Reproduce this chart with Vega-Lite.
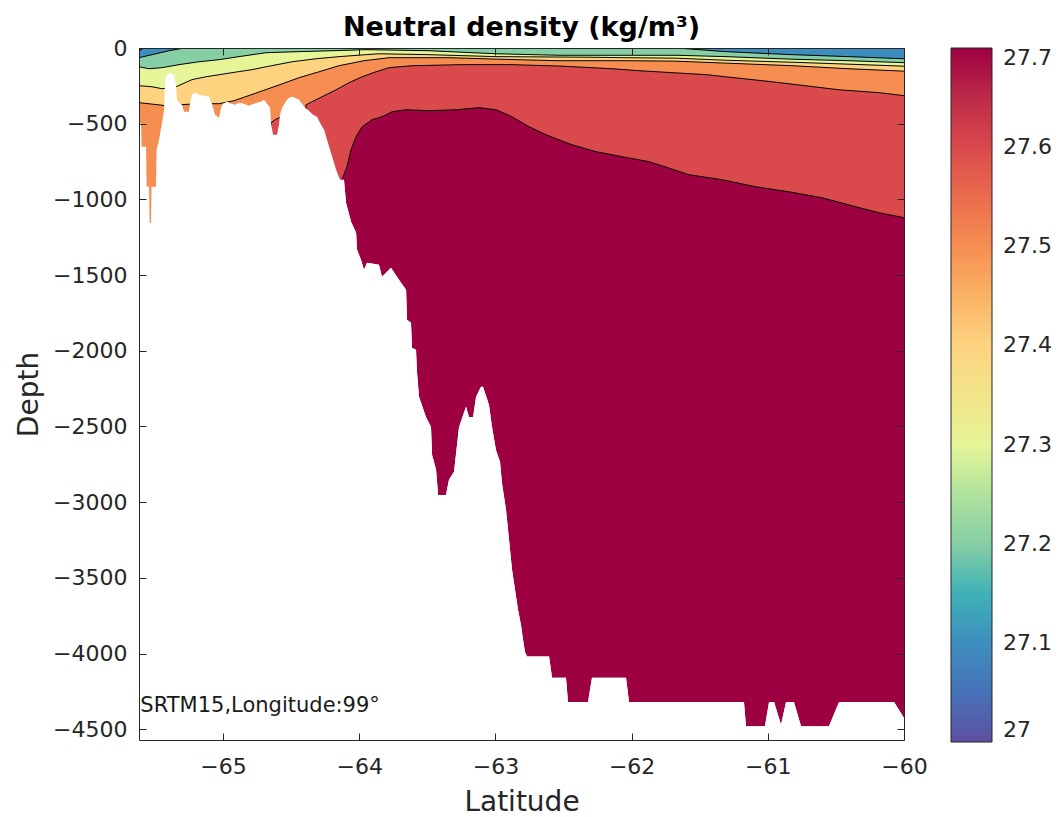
{
  "$schema": "https://vega.github.io/schema/vega-lite/v6.json",
  "width": 765,
  "height": 692,
  "autosize": "none",
  "padding": {"left": 139, "top": 48, "right": 154, "bottom": 77},
  "background": "white",
  "config": {
    "font": "DejaVu Sans",
    "view": {"stroke": null},
    "axis": {
      "labelFont": "DejaVu Sans",
      "labelFontSize": 22,
      "labelColor": "#262626",
      "titleFont": "DejaVu Sans",
      "titleFontSize": 28,
      "titleFontWeight": "normal",
      "titleColor": "#262626",
      "domainColor": "#262626",
      "domainWidth": 1,
      "tickColor": "#262626",
      "tickWidth": 1,
      "grid": false,
      "tickSize": -7,
      "zindex": 2,
      "labelFlush": false,
      "labelOverlap": false
    },
    "legend": {"labelFont": "DejaVu Sans", "labelFontSize": 22, "labelColor": "#262626"}
  },
  "title": {
    "text": "Neutral density (kg/m³)",
    "fontSize": 27,
    "fontWeight": "bold",
    "color": "black",
    "anchor": "middle",
    "frame": "group",
    "offset": -26,
    "baseline": "alphabetic"
  },
  "datasets": {
    "floor": [
      {"lat": -65.617, "depth": -494}, {"lat": -65.602, "depth": -494}, {"lat": -65.598, "depth": -652}, {"lat": -65.565, "depth": -652},
      {"lat": -65.561, "depth": -917}, {"lat": -65.543, "depth": -917}, {"lat": -65.539, "depth": -1154}, {"lat": -65.529, "depth": -1154},
      {"lat": -65.525, "depth": -917}, {"lat": -65.492, "depth": -917}, {"lat": -65.488, "depth": -672}, {"lat": -65.470, "depth": -606},
      {"lat": -65.448, "depth": -494}, {"lat": -65.433, "depth": -408}, {"lat": -65.426, "depth": -209}, {"lat": -65.411, "depth": -176},
      {"lat": -65.389, "depth": -163}, {"lat": -65.360, "depth": -176}, {"lat": -65.345, "depth": -243}, {"lat": -65.338, "depth": -342},
      {"lat": -65.323, "depth": -361}, {"lat": -65.301, "depth": -375}, {"lat": -65.286, "depth": -421}, {"lat": -65.250, "depth": -421},
      {"lat": -65.242, "depth": -361}, {"lat": -65.228, "depth": -309}, {"lat": -65.206, "depth": -295}, {"lat": -65.176, "depth": -309},
      {"lat": -65.140, "depth": -315}, {"lat": -65.103, "depth": -322}, {"lat": -65.081, "depth": -368}, {"lat": -65.059, "depth": -441},
      {"lat": -65.029, "depth": -461}, {"lat": -65.015, "depth": -394}, {"lat": -65.000, "depth": -368}, {"lat": -64.971, "depth": -355},
      {"lat": -64.941, "depth": -368}, {"lat": -64.912, "depth": -375}, {"lat": -64.883, "depth": -361}, {"lat": -64.846, "depth": -368},
      {"lat": -64.809, "depth": -381}, {"lat": -64.772, "depth": -368}, {"lat": -64.750, "depth": -361}, {"lat": -64.721, "depth": -355},
      {"lat": -64.699, "depth": -342}, {"lat": -64.677, "depth": -368}, {"lat": -64.655, "depth": -394}, {"lat": -64.648, "depth": -494},
      {"lat": -64.633, "depth": -573}, {"lat": -64.604, "depth": -573}, {"lat": -64.589, "depth": -507}, {"lat": -64.582, "depth": -441},
      {"lat": -64.567, "depth": -394}, {"lat": -64.545, "depth": -361}, {"lat": -64.530, "depth": -342}, {"lat": -64.515, "depth": -328},
      {"lat": -64.493, "depth": -322}, {"lat": -64.471, "depth": -328}, {"lat": -64.442, "depth": -342}, {"lat": -64.420, "depth": -368},
      {"lat": -64.398, "depth": -394}, {"lat": -64.369, "depth": -414}, {"lat": -64.339, "depth": -441}, {"lat": -64.310, "depth": -454},
      {"lat": -64.280, "depth": -507}, {"lat": -64.258, "depth": -540}, {"lat": -64.236, "depth": -606}, {"lat": -64.214, "depth": -672},
      {"lat": -64.192, "depth": -738}, {"lat": -64.170, "depth": -804}, {"lat": -64.141, "depth": -870}, {"lat": -64.112, "depth": -870},
      {"lat": -64.097, "depth": -1022}, {"lat": -64.060, "depth": -1147}, {"lat": -64.023, "depth": -1220}, {"lat": -64.016, "depth": -1333},
      {"lat": -63.987, "depth": -1399}, {"lat": -63.965, "depth": -1465}, {"lat": -63.943, "depth": -1419}, {"lat": -63.855, "depth": -1432},
      {"lat": -63.833, "depth": -1511}, {"lat": -63.767, "depth": -1452}, {"lat": -63.693, "depth": -1551}, {"lat": -63.656, "depth": -1597},
      {"lat": -63.649, "depth": -1795}, {"lat": -63.620, "depth": -1815}, {"lat": -63.612, "depth": -1981}, {"lat": -63.583, "depth": -1994},
      {"lat": -63.576, "depth": -2139}, {"lat": -63.561, "depth": -2304}, {"lat": -63.510, "depth": -2437}, {"lat": -63.473, "depth": -2503},
      {"lat": -63.465, "depth": -2688}, {"lat": -63.436, "depth": -2785}, {"lat": -63.421, "depth": -2953}, {"lat": -63.363, "depth": -2953},
      {"lat": -63.341, "depth": -2852}, {"lat": -63.304, "depth": -2799}, {"lat": -63.267, "depth": -2503}, {"lat": -63.216, "depth": -2370},
      {"lat": -63.194, "depth": -2437}, {"lat": -63.164, "depth": -2437}, {"lat": -63.142, "depth": -2304}, {"lat": -63.106, "depth": -2238},
      {"lat": -63.091, "depth": -2238}, {"lat": -63.047, "depth": -2358}, {"lat": -63.025, "depth": -2503}, {"lat": -62.996, "depth": -2655},
      {"lat": -62.966, "depth": -2734}, {"lat": -62.952, "depth": -2874}, {"lat": -62.922, "depth": -3051}, {"lat": -62.900, "depth": -3249},
      {"lat": -62.878, "depth": -3447}, {"lat": -62.856, "depth": -3579}, {"lat": -62.834, "depth": -3711}, {"lat": -62.812, "depth": -3811},
      {"lat": -62.797, "depth": -3910}, {"lat": -62.783, "depth": -3989}, {"lat": -62.768, "depth": -4020}, {"lat": -62.606, "depth": -4020},
      {"lat": -62.584, "depth": -4160}, {"lat": -62.482, "depth": -4160}, {"lat": -62.467, "depth": -4320}, {"lat": -62.320, "depth": -4320},
      {"lat": -62.291, "depth": -4160}, {"lat": -62.041, "depth": -4160}, {"lat": -62.019, "depth": -4320}, {"lat": -61.175, "depth": -4320},
      {"lat": -61.160, "depth": -4480}, {"lat": -61.021, "depth": -4480}, {"lat": -60.991, "depth": -4320}, {"lat": -60.954, "depth": -4320},
      {"lat": -60.903, "depth": -4470}, {"lat": -60.866, "depth": -4320}, {"lat": -60.808, "depth": -4320}, {"lat": -60.756, "depth": -4480},
      {"lat": -60.551, "depth": -4480}, {"lat": -60.477, "depth": -4320}, {"lat": -60.073, "depth": -4320}, {"lat": -60.0, "depth": -4426}
    ],
    "iso": [
      {"lvl": 27.7, "part": "a", "lat": -65.617, "depth": -3000}, {"lvl": 27.7, "part": "a", "lat": -64.140, "depth": -3000},
      {"lvl": 27.7, "part": "a", "lat": -64.126, "depth": -870}, {"lvl": 27.7, "part": "a", "lat": -64.090, "depth": -784},
      {"lvl": 27.7, "part": "a", "lat": -64.060, "depth": -672}, {"lvl": 27.7, "part": "a", "lat": -64.023, "depth": -586},
      {"lvl": 27.7, "part": "a", "lat": -63.979, "depth": -520}, {"lvl": 27.7, "part": "a", "lat": -63.906, "depth": -474},
      {"lvl": 27.7, "part": "a", "lat": -63.833, "depth": -454}, {"lvl": 27.7, "part": "a", "lat": -63.759, "depth": -421},
      {"lvl": 27.7, "part": "a", "lat": -63.656, "depth": -408}, {"lvl": 27.7, "part": "a", "lat": -63.488, "depth": -414},
      {"lvl": 27.7, "part": "a", "lat": -63.289, "depth": -408}, {"lvl": 27.7, "part": "a", "lat": -63.120, "depth": -394},
      {"lvl": 27.7, "part": "a", "lat": -62.996, "depth": -408}, {"lvl": 27.7, "part": "a", "lat": -62.878, "depth": -454},
      {"lvl": 27.7, "part": "a", "lat": -62.753, "depth": -520}, {"lvl": 27.7, "part": "a", "lat": -62.629, "depth": -573},
      {"lvl": 27.7, "part": "a", "lat": -62.438, "depth": -639}, {"lvl": 27.7, "part": "a", "lat": -62.261, "depth": -685},
      {"lvl": 27.7, "part": "a", "lat": -62.070, "depth": -718}, {"lvl": 27.7, "part": "a", "lat": -61.872, "depth": -751},
      {"lvl": 27.7, "part": "a", "lat": -61.777, "depth": -778}, {"lvl": 27.7, "part": "a", "lat": -61.579, "depth": -837},
      {"lvl": 27.7, "part": "a", "lat": -61.336, "depth": -870}, {"lvl": 27.7, "part": "a", "lat": -61.087, "depth": -917},
      {"lvl": 27.7, "part": "a", "lat": -60.844, "depth": -950}, {"lvl": 27.7, "part": "a", "lat": -60.602, "depth": -989},
      {"lvl": 27.7, "part": "a", "lat": -60.352, "depth": -1049}, {"lvl": 27.7, "part": "a", "lat": -60.184, "depth": -1088},
      {"lvl": 27.7, "part": "a", "lat": -60.0, "depth": -1121},

      {"lvl": 27.6, "part": "a", "lat": -65.617, "depth": -3000}, {"lvl": 27.6, "part": "a", "lat": -64.655, "depth": -3000},
      {"lvl": 27.6, "part": "a", "lat": -64.648, "depth": -494}, {"lvl": 27.6, "part": "a", "lat": -64.618, "depth": -474},
      {"lvl": 27.6, "part": "a", "lat": -64.574, "depth": -454}, {"lvl": 27.6, "part": "a", "lat": -64.567, "depth": -3000},
      {"lvl": 27.6, "part": "a", "lat": -64.394, "depth": -3000}, {"lvl": 27.6, "part": "a", "lat": -64.391, "depth": -375},
      {"lvl": 27.6, "part": "a", "lat": -64.273, "depth": -322}, {"lvl": 27.6, "part": "a", "lat": -64.170, "depth": -276},
      {"lvl": 27.6, "part": "a", "lat": -64.075, "depth": -229}, {"lvl": 27.6, "part": "a", "lat": -63.979, "depth": -190},
      {"lvl": 27.6, "part": "a", "lat": -63.877, "depth": -157}, {"lvl": 27.6, "part": "a", "lat": -63.781, "depth": -130},
      {"lvl": 27.6, "part": "a", "lat": -63.612, "depth": -117}, {"lvl": 27.6, "part": "a", "lat": -63.245, "depth": -110},
      {"lvl": 27.6, "part": "a", "lat": -62.878, "depth": -110}, {"lvl": 27.6, "part": "a", "lat": -62.511, "depth": -120},
      {"lvl": 27.6, "part": "a", "lat": -62.144, "depth": -137}, {"lvl": 27.6, "part": "a", "lat": -61.946, "depth": -150},
      {"lvl": 27.6, "part": "a", "lat": -61.454, "depth": -176}, {"lvl": 27.6, "part": "a", "lat": -60.969, "depth": -223},
      {"lvl": 27.6, "part": "a", "lat": -60.477, "depth": -276}, {"lvl": 27.6, "part": "a", "lat": -60.184, "depth": -295},
      {"lvl": 27.6, "part": "a", "lat": -60.0, "depth": -315},

      {"lvl": 27.5, "part": "a", "lat": -65.617, "depth": -361}, {"lvl": 27.5, "part": "a", "lat": -65.419, "depth": -381},
      {"lvl": 27.5, "part": "a", "lat": -65.323, "depth": -375}, {"lvl": 27.5, "part": "a", "lat": -65.176, "depth": -368},
      {"lvl": 27.5, "part": "a", "lat": -65.029, "depth": -368}, {"lvl": 27.5, "part": "a", "lat": -64.919, "depth": -348},
      {"lvl": 27.5, "part": "a", "lat": -64.772, "depth": -302}, {"lvl": 27.5, "part": "a", "lat": -64.604, "depth": -249},
      {"lvl": 27.5, "part": "a", "lat": -64.442, "depth": -196}, {"lvl": 27.5, "part": "a", "lat": -64.295, "depth": -157},
      {"lvl": 27.5, "part": "a", "lat": -64.148, "depth": -117}, {"lvl": 27.5, "part": "a", "lat": -63.965, "depth": -84},
      {"lvl": 27.5, "part": "a", "lat": -63.781, "depth": -64}, {"lvl": 27.5, "part": "a", "lat": -63.341, "depth": -64},
      {"lvl": 27.5, "part": "a", "lat": -62.974, "depth": -74}, {"lvl": 27.5, "part": "a", "lat": -62.533, "depth": -84},
      {"lvl": 27.5, "part": "a", "lat": -62.041, "depth": -84}, {"lvl": 27.5, "part": "a", "lat": -61.674, "depth": -87},
      {"lvl": 27.5, "part": "a", "lat": -61.307, "depth": -100}, {"lvl": 27.5, "part": "a", "lat": -60.822, "depth": -117},
      {"lvl": 27.5, "part": "a", "lat": -60.404, "depth": -137}, {"lvl": 27.5, "part": "a", "lat": -60.0, "depth": -153},

      {"lvl": 27.4, "part": "a", "lat": -65.617, "depth": -249}, {"lvl": 27.4, "part": "a", "lat": -65.521, "depth": -256},
      {"lvl": 27.4, "part": "a", "lat": -65.448, "depth": -269}, {"lvl": 27.4, "part": "a", "lat": -65.345, "depth": -256},
      {"lvl": 27.4, "part": "a", "lat": -65.228, "depth": -209}, {"lvl": 27.4, "part": "a", "lat": -65.125, "depth": -190},
      {"lvl": 27.4, "part": "a", "lat": -64.934, "depth": -163}, {"lvl": 27.4, "part": "a", "lat": -64.787, "depth": -143},
      {"lvl": 27.4, "part": "a", "lat": -64.684, "depth": -124}, {"lvl": 27.4, "part": "a", "lat": -64.493, "depth": -91},
      {"lvl": 27.4, "part": "a", "lat": -64.317, "depth": -71}, {"lvl": 27.4, "part": "a", "lat": -64.148, "depth": -57},
      {"lvl": 27.4, "part": "a", "lat": -63.950, "depth": -44}, {"lvl": 27.4, "part": "a", "lat": -63.855, "depth": -38},
      {"lvl": 27.4, "part": "a", "lat": -63.488, "depth": -44}, {"lvl": 27.4, "part": "a", "lat": -62.996, "depth": -57},
      {"lvl": 27.4, "part": "a", "lat": -62.291, "depth": -61}, {"lvl": 27.4, "part": "a", "lat": -62.041, "depth": -64},
      {"lvl": 27.4, "part": "a", "lat": -61.674, "depth": -67}, {"lvl": 27.4, "part": "a", "lat": -61.307, "depth": -81},
      {"lvl": 27.4, "part": "a", "lat": -60.822, "depth": -94}, {"lvl": 27.4, "part": "a", "lat": -60.404, "depth": -107},
      {"lvl": 27.4, "part": "a", "lat": -60.0, "depth": -120},

      {"lvl": 27.3, "part": "a", "lat": -65.617, "depth": -124}, {"lvl": 27.3, "part": "a", "lat": -65.543, "depth": -137},
      {"lvl": 27.3, "part": "a", "lat": -65.448, "depth": -130}, {"lvl": 27.3, "part": "a", "lat": -65.323, "depth": -110},
      {"lvl": 27.3, "part": "a", "lat": -65.176, "depth": -91}, {"lvl": 27.3, "part": "a", "lat": -65.029, "depth": -77},
      {"lvl": 27.3, "part": "a", "lat": -64.883, "depth": -57}, {"lvl": 27.3, "part": "a", "lat": -64.684, "depth": -31},
      {"lvl": 27.3, "part": "a", "lat": -64.442, "depth": -24}, {"lvl": 27.3, "part": "a", "lat": -64.199, "depth": -18},
      {"lvl": 27.3, "part": "a", "lat": -63.950, "depth": -11}, {"lvl": 27.3, "part": "a", "lat": -63.488, "depth": -18},
      {"lvl": 27.3, "part": "a", "lat": -62.996, "depth": -38}, {"lvl": 27.3, "part": "a", "lat": -62.533, "depth": -48},
      {"lvl": 27.3, "part": "a", "lat": -62.041, "depth": -48}, {"lvl": 27.3, "part": "a", "lat": -61.674, "depth": -48},
      {"lvl": 27.3, "part": "a", "lat": -61.307, "depth": -57}, {"lvl": 27.3, "part": "a", "lat": -60.822, "depth": -74},
      {"lvl": 27.3, "part": "a", "lat": -60.404, "depth": -84}, {"lvl": 27.3, "part": "a", "lat": -60.0, "depth": -97},

      {"lvl": 27.2, "part": "a", "lat": -65.617, "depth": -64}, {"lvl": 27.2, "part": "a", "lat": -65.521, "depth": -44},
      {"lvl": 27.2, "part": "a", "lat": -65.396, "depth": -18}, {"lvl": 27.2, "part": "a", "lat": -65.286, "depth": 0},
      {"lvl": 27.2, "part": "b", "lat": -61.674, "depth": 0}, {"lvl": 27.2, "part": "b", "lat": -61.307, "depth": -24},
      {"lvl": 27.2, "part": "b", "lat": -60.822, "depth": -44}, {"lvl": 27.2, "part": "b", "lat": -60.404, "depth": -57},
      {"lvl": 27.2, "part": "b", "lat": -60.0, "depth": -71},

      {"lvl": 27.1, "part": "a", "lat": -65.617, "depth": -18}, {"lvl": 27.1, "part": "a", "lat": -65.580, "depth": 0}
    ]
  },
  "layer": [
    {
      "data": {"name": "floor"},
      "mark": {"type": "area", "clip": true, "opacity": 1},
      "encoding": {
        "x": {"field": "lat", "type": "quantitative", "scale": {"domain": [-65.617, -60], "nice": false, "zero": false}, "axis": null},
        "y": {"field": "depth", "type": "quantitative", "scale": {"domain": [-4571, 0], "nice": false, "zero": false}, "axis": null},
        "y2": {"datum": 0},
        "color": {
          "datum": 27.7, "type": "quantitative",
          "scale": {"domain": [27, 27.1, 27.2, 27.3, 27.4, 27.5, 27.6, 27.7],
                    "range": ["#5e4fa2", "#3d8ebe", "#86cea4", "#e6f598", "#fdd380", "#f68e52", "#da494c", "#9e0142"]},
          "legend": {"title": null, "orient": "right", "offset": 46, "direction": "vertical", "gradientLength": 694, "gradientThickness": 41,
                     "gradientStrokeColor": "#262626", "gradientStrokeWidth": 1, "values": [27, 27.1, 27.2, 27.3, 27.4, 27.5, 27.6, 27.7],
                     "format": "~g", "labelOffset": 11, "labelBaseline": "middle", "padding": 0, "labelOverlap": false}
        }
      }
    },
    {
      "data": {"name": "iso"}, "transform": [{"filter": {"field": "lvl", "equal": 27.7}}],
      "mark": {"type": "area", "clip": true, "opacity": 1},
      "encoding": {"x": {"field": "lat", "type": "quantitative", "axis": null}, "y": {"field": "depth", "type": "quantitative", "axis": null},
                   "y2": {"datum": 0}, "color": {"datum": 27.6, "type": "quantitative"}}
    },
    {
      "data": {"name": "iso"}, "transform": [{"filter": {"field": "lvl", "equal": 27.6}}],
      "mark": {"type": "area", "clip": true, "opacity": 1},
      "encoding": {"x": {"field": "lat", "type": "quantitative", "axis": null}, "y": {"field": "depth", "type": "quantitative", "axis": null},
                   "y2": {"datum": 0}, "color": {"datum": 27.5, "type": "quantitative"}}
    },
    {
      "data": {"name": "iso"}, "transform": [{"filter": {"field": "lvl", "equal": 27.5}}],
      "mark": {"type": "area", "clip": true, "opacity": 1},
      "encoding": {"x": {"field": "lat", "type": "quantitative", "axis": null}, "y": {"field": "depth", "type": "quantitative", "axis": null},
                   "y2": {"datum": 0}, "color": {"datum": 27.4, "type": "quantitative"}}
    },
    {
      "data": {"name": "iso"}, "transform": [{"filter": {"field": "lvl", "equal": 27.4}}],
      "mark": {"type": "area", "clip": true, "opacity": 1},
      "encoding": {"x": {"field": "lat", "type": "quantitative", "axis": null}, "y": {"field": "depth", "type": "quantitative", "axis": null},
                   "y2": {"datum": 0}, "color": {"datum": 27.3, "type": "quantitative"}}
    },
    {
      "data": {"name": "iso"}, "transform": [{"filter": {"field": "lvl", "equal": 27.3}}],
      "mark": {"type": "area", "clip": true, "opacity": 1},
      "encoding": {"x": {"field": "lat", "type": "quantitative", "axis": null}, "y": {"field": "depth", "type": "quantitative", "axis": null},
                   "y2": {"datum": 0}, "color": {"datum": 27.2, "type": "quantitative"}}
    },
    {
      "data": {"name": "iso"}, "transform": [{"filter": {"field": "lvl", "equal": 27.2}}],
      "mark": {"type": "area", "clip": true, "opacity": 1},
      "encoding": {"x": {"field": "lat", "type": "quantitative", "axis": null}, "y": {"field": "depth", "type": "quantitative", "axis": null},
                   "y2": {"datum": 0}, "detail": {"field": "part"}, "color": {"datum": 27.1, "type": "quantitative"}}
    },
    {
      "data": {"name": "iso"}, "transform": [{"filter": {"field": "lvl", "equal": 27.1}}],
      "mark": {"type": "area", "clip": true, "opacity": 1},
      "encoding": {"x": {"field": "lat", "type": "quantitative", "axis": null}, "y": {"field": "depth", "type": "quantitative", "axis": null},
                   "y2": {"datum": 0}, "color": {"datum": 27.0, "type": "quantitative"}}
    },
    {
      "data": {"name": "iso"},
      "mark": {"type": "line", "clip": true, "color": "black", "strokeWidth": 1},
      "encoding": {"x": {"field": "lat", "type": "quantitative", "axis": null}, "y": {"field": "depth", "type": "quantitative", "axis": null},
                   "detail": [{"field": "lvl"}, {"field": "part"}]}
    },
    {
      "data": {"name": "floor"},
      "mark": {"type": "area", "clip": true, "opacity": 1, "color": "white"},
      "encoding": {
        "x": {"field": "lat", "type": "quantitative",
              "axis": {"orient": "top", "labels": false, "title": null, "ticks": true, "domain": true, "tickSize": -7, "zindex": 3, "values": [-65, -64, -63, -62, -61, -60]}},
        "y": {"field": "depth", "type": "quantitative",
              "axis": {"orient": "right", "labels": false, "title": null, "ticks": true, "domain": true, "tickSize": -7, "zindex": 3, "values": [0, -500, -1000, -1500, -2000, -2500, -3000, -3500, -4000, -4500]}},
        "y2": {"datum": -4571}
      }
    },
    {
      "data": {"values": [{}]},
      "mark": {"type": "text", "text": "SRTM15,Longitude:99°", "align": "left", "baseline": "alphabetic", "fontSize": 21, "color": "#1a1a1a", "font": "DejaVu Sans"},
      "encoding": {
        "x": {"datum": -65.607, "type": "quantitative",
              "axis": {"orient": "bottom", "title": "Latitude", "ticks": true, "domain": true, "tickSize": -7, "zindex": 3, "values": [-65, -64, -63, -62, -61, -60], "format": "d", "labelPadding": 23, "titlePadding": 11}},
        "y": {"datum": -4386, "type": "quantitative",
              "axis": {"orient": "left", "title": "Depth", "ticks": true, "domain": true, "tickSize": -7, "zindex": 3, "values": [0, -500, -1000, -1500, -2000, -2500, -3000, -3500, -4000, -4500], "format": "d", "labelPadding": 19, "titlePadding": 9}}
      }
    }
  ],
  "resolve": {"axis": {"x": "independent", "y": "independent"}}
}
